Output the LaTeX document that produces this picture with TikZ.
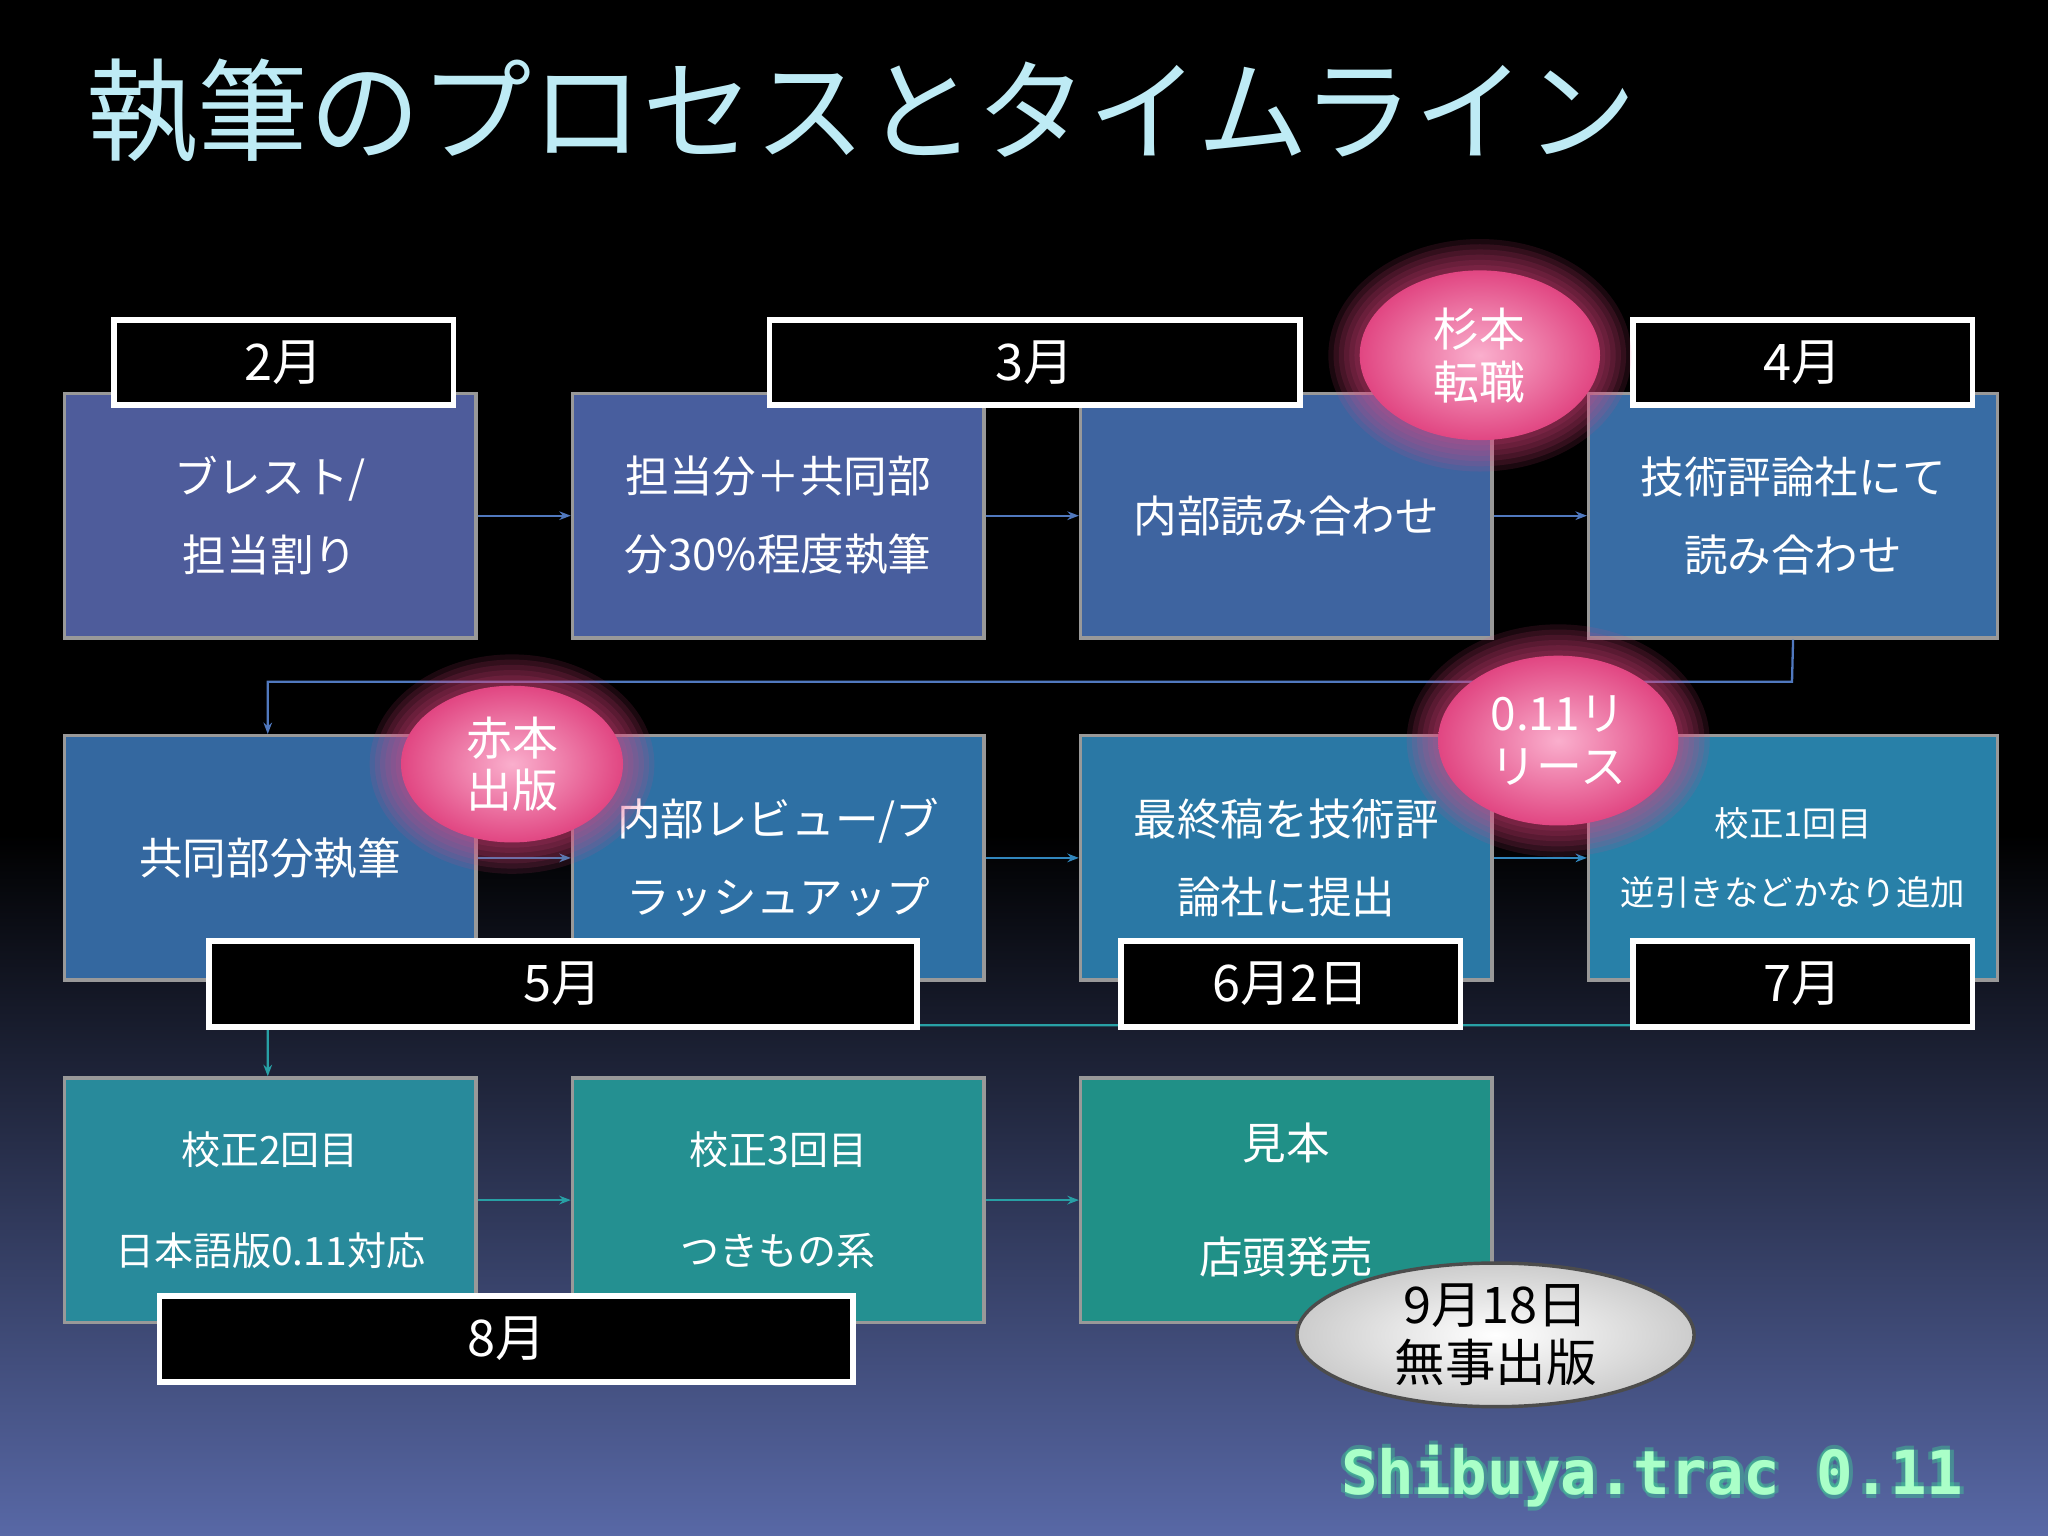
\documentclass[tikz,border=0pt]{standalone}
\usepackage{fontspec}
\setmainfont{Noto Sans CJK JP}
\newfontfamily\monof{DejaVu Sans Mono}
\usetikzlibrary{arrows.meta,shapes.geometric}
\definecolor{cb1}{RGB}{78,92,155}
\definecolor{cb2}{RGB}{72,94,158}
\definecolor{cb3}{RGB}{62,100,160}
\definecolor{cb4}{RGB}{56,108,164}
\definecolor{cb5}{RGB}{52,104,160}
\definecolor{cb6}{RGB}{46,112,164}
\definecolor{cb7}{RGB}{42,120,165}
\definecolor{cb8}{RGB}{40,128,168}
\definecolor{cb9}{RGB}{40,138,155}
\definecolor{cb10}{RGB}{36,144,145}
\definecolor{cb11}{RGB}{32,144,135}
\definecolor{ca1}{RGB}{80,120,190}
\definecolor{ca2}{RGB}{50,135,190}
\definecolor{ca3}{RGB}{40,160,165}
\definecolor{titlec}{RGB}{190,235,245}
\definecolor{bgbot}{RGB}{88,104,166}
\definecolor{glowc}{RGB}{60,230,150}
\definecolor{logoc}{RGB}{170,255,200}
\definecolor{pinko}{RGB}{225,70,130}
\definecolor{pinki}{RGB}{250,175,205}
\begin{document}
\begin{tikzpicture}[x=0.02cm,y=-0.02cm,
 box/.style={draw=black!40,line width=1.5pt,minimum width=315*0.02cm,minimum height=187*0.02cm,anchor=north west,text=white,font=\fontsize{19}{34}\selectfont,align=center,inner sep=0pt},
 lab/.style={draw=white,fill=black,line width=2.5pt,anchor=north west,text=white,font=\fontsize{22}{24}\selectfont,inner sep=0pt},
 arr/.style={draw=#1,line width=1pt,-{Stealth[length=5pt]}},
 logof/.style={anchor=center,font=\monof\bfseries\fontsize{26.5}{30}\selectfont},
 pinkb/.style={ellipse,inner sep=0pt,minimum width=184*0.02cm,minimum height=130*0.02cm,inner color=pinki,outer color=pinko,text=white,align=center,font=\fontsize{20}{23}\selectfont}]
\fill[black] (0,0) rectangle (1568,640);
\shade[top color=black,bottom color=bgbot] (0,639) rectangle (1568,1176);
\useasboundingbox (0,0) rectangle (1568,1176);
\node[anchor=west,text=titlec,font=\fontsize{48.5}{54}\selectfont] (title) at (60,85) {執筆のプロセスとタイムライン};
% boxes
\node[box,fill=cb1] (b1) at (48,300) {ブレスト/\\担当割り};
\node[box,fill=cb2] (b2) at (437,300) {担当分＋共同部\\分30\%程度執筆};
\node[box,fill=cb3] (b3) at (826,300) {内部読み合わせ};
\node[box,fill=cb4,minimum width=313*0.02cm] (b4) at (1215,300) {技術評論社にて\\読み合わせ};
\node[box,fill=cb5] (b5) at (48,562) {共同部分執筆};
\node[box,fill=cb6] (b6) at (437,562) {内部レビュー/ブ\\ラッシュアップ};
\node[box,fill=cb7] (b7) at (826,562) {最終稿を技術評\\論社に提出};
\node[box,fill=cb8,minimum width=313*0.02cm,font=\fontsize{15}{30}\selectfont] (b8) at (1215,562) {校正1回目\\逆引きなどかなり追加};
\node[box,fill=cb9,font=\fontsize{17}{44}\selectfont] (b9) at (48,824) {校正2回目\\日本語版0.11対応};
\node[box,fill=cb10,font=\fontsize{17}{44}\selectfont] (b10) at (437,824) {校正3回目\\つきもの系};
\node[box,fill=cb11,font=\fontsize{19}{50}\selectfont] (b11) at (826,824) {見本\\店頭発売};
% arrows
\foreach \a/\b/\c in {b1/b2/ca1,b2/b3/ca1,b3/b4/ca1,b5/b6/ca2,b6/b7/ca2,b7/b8/ca2,b9/b10/ca3,b10/b11/ca3}
  \draw[arr=\c] (\a.east) -- (\b.west);
\coordinate (c1) at (1372,522); \coordinate (c2) at (205,522);
\draw[arr=ca1] (b4.south) -- (c1) -- (c2) -- (b5.north -| c2);
\coordinate (c3) at (1372,785); \coordinate (c4) at (205,785);
\draw[arr=ca3] (b8.south) -- (c3) -- (c4) -- (b9.north -| c4);
% labels
\node[lab,minimum width=260*0.02cm,minimum height=65*0.02cm] (m2) at (85,243) {2月};
\node[lab,minimum width=406*0.02cm,minimum height=65*0.02cm] (m3) at (587,243) {3月};
\node[lab,minimum width=260*0.02cm,minimum height=65*0.02cm] (m4) at (1248,243) {4月};
\node[lab,minimum width=542*0.02cm,minimum height=66*0.02cm] (m5) at (158,718) {5月};
\node[lab,minimum width=260*0.02cm,minimum height=66*0.02cm] (m6) at (856,718) {6月2日};
\node[lab,minimum width=260*0.02cm,minimum height=66*0.02cm] (m7) at (1248,718) {7月};
\node[lab,minimum width=531*0.02cm,minimum height=66*0.02cm] (m8) at (120,990) {8月};
% ellipses with glow
\foreach \x/\y/\rx/\ry in {1133/272/92/65,392/585/85/60,1193/567/92/65}{
  \foreach \k in {1,...,6} \fill[pinko,opacity=0.12] (\x,\y) ellipse ({(\rx+4*\k)*0.02cm} and {(\ry+4*\k)*0.02cm});}
\node[pinkb] (e1) at (1133,272) {杉本\\転職};
\node[pinkb,minimum width=170*0.02cm,minimum height=120*0.02cm] (e2) at (392,585) {赤本\\出版};
\node[pinkb] (e3) at (1193,567) {0.11リ\\リース};
\node[ellipse,draw=black!70,line width=1.5pt,inner color=white,outer color=black!20,minimum width=304*0.02cm,minimum height=110*0.02cm,inner sep=0pt,align=center,font=\fontsize{22}{25}\selectfont] (e4) at (1145,1022) {9月18日\\無事出版};
% logo glow
\foreach \dx/\dy in {-3/0,3/0,0/-3,0/3} \node[logof,text=glowc,opacity=0.35] at (1265+\dx,1130+\dy) {Shibuya.trac 0.11};
\node[logof,text=logoc] (logo) at (1265,1130) {Shibuya.trac 0.11};
\end{tikzpicture}
\end{document}
